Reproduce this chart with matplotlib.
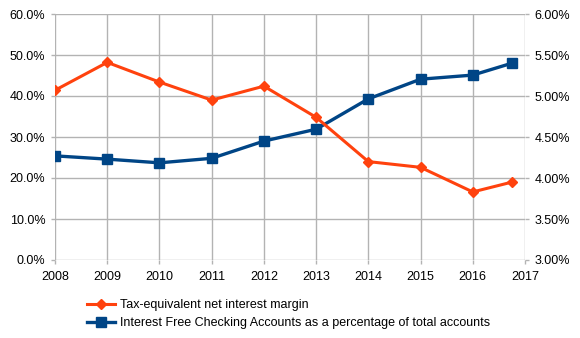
import matplotlib
matplotlib.use("Agg")
import matplotlib.pyplot as plt
from matplotlib.ticker import FuncFormatter, MultipleLocator

plt.rcParams['font.family'] = ['Liberation Sans', 'DejaVu Sans']

# Years (last observation is a partial-year reading)
years = [2008, 2009, 2010, 2011, 2012, 2013, 2014, 2015, 2016, 2016.75]
net_interest_margin = [5.07, 5.41, 5.17, 4.95, 5.12, 4.74, 4.20, 4.13, 3.83, 3.95]
free_checking_share = [25.4, 24.6, 23.7, 24.8, 29.0, 31.9, 39.3, 44.1, 45.1, 48.0]
year_ticks = list(range(2008, 2018))

label_margin = "Tax-equivalent net interest margin"
label_checking = "Interest Free Checking Accounts as a percentage of total accounts"

orange = "#ff420e"
blue = "#004586"
grid_c = "#b3b3b3"

fig = plt.figure(figsize=(5.8, 3.38), dpi=100)
ax = fig.add_axes([55/580, 1 - 260/338, 470/580, 246/338])
ax2 = ax.twinx()

ax.set_xlim(2008, 2017)
ax.set_ylim(0, 60)
ax2.set_ylim(3.0, 6.0)

ax.set_xticks(year_ticks)
ax.yaxis.set_major_locator(MultipleLocator(10))
ax2.yaxis.set_major_locator(MultipleLocator(0.5))
ax.yaxis.set_major_formatter(FuncFormatter(lambda v, p: f"{v:.1f}%"))
ax2.yaxis.set_major_formatter(FuncFormatter(lambda v, p: f"{v:.2f}%"))

ax.grid(True, color=grid_c, linewidth=1.0)
ax.set_axisbelow(True)
for a in (ax, ax2):
    for s in a.spines.values():
        s.set_visible(False)
    a.tick_params(axis='both', colors=grid_c, labelcolor='black', length=3,
                  width=1.0, labelsize=9, pad=4)
ax.tick_params(axis='x', pad=5)

line_b, = ax.plot(years, free_checking_share, color=blue, linewidth=2.4,
                  marker='s', markersize=6.5, label=label_checking, zorder=3)
line_o, = ax2.plot(years, net_interest_margin, color=orange, linewidth=2.2,
                   marker='D', markersize=5.5, label=label_margin, zorder=3)
ax2.set_zorder(ax.get_zorder() + 1)
ax2.patch.set_visible(False)

fig.legend([line_o, line_b], [label_margin, label_checking],
           loc='upper left', bbox_to_anchor=(87/580, 1 - 299/338),
           frameon=False, fontsize=9, handlelength=2.2, handletextpad=0.45,
           labelspacing=0.5, borderpad=0, borderaxespad=0)

fig.savefig("out.png", dpi=100)
